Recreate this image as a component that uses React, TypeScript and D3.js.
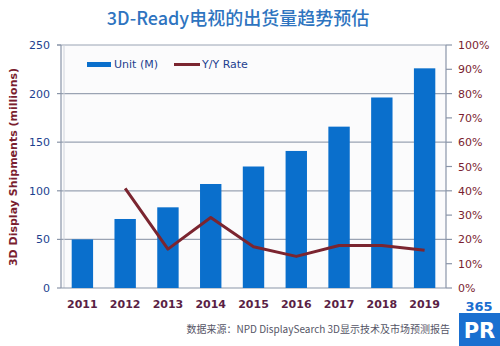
import React from "react";
import * as d3 from "d3";

const years = ["2011", "2012", "2013", "2014", "2015", "2016", "2017", "2018", "2019"];
const units = [50, 71, 83, 107, 125, 141, 166, 196, 226];
const yoyYears = ["2012", "2013", "2014", "2015", "2016", "2017", "2018", "2019"];
const yoyRate = [41, 16, 29, 17, 13, 17.5, 17.5, 15.5];
const leftTicks = [0, 50, 100, 150, 200, 250];
const rightTicks = [0, 10, 20, 30, 40, 50, 60, 70, 80, 90, 100];

const W = 500, H = 346;
const L = 61, R = 446, T = 45, B = 288;
const FONT = "'DejaVu Sans', Verdana, sans-serif";

export default function App() {
  const x = d3.scaleBand<string>().domain(years).range([L, R]).paddingInner(0.5).paddingOuter(0.25);
  const y = d3.scaleLinear().domain([0, 250]).range([B, T]);
  const y2 = d3.scaleLinear().domain([0, 100]).range([B, T]);
  const line = d3.line<number>()
    .x((_, i) => (x(yoyYears[i]) as number) + x.bandwidth() / 2)
    .y((d) => y2(d));

  return (
    <svg width={W} height={H} style={{ position: "absolute", left: 0, top: 0, background: "#fff" }}>
      <rect x={L} y={T} width={R - L} height={B - T} fill="#fbfbfc" />
      <text x={238} y={25} textAnchor="middle" fontFamily="'Noto Sans CJK SC', 'DejaVu Sans', sans-serif" fontSize={18} fontWeight={500} fill="#2e74c0">3D-Ready电视的出货量趋势预估</text>
      {leftTicks.map((t) => (
        <g key={t}>
          {t > 0 && <line x1={t === 250 ? 57 : L} x2={R} y1={y(t)} y2={y(t)} stroke="#9aa3b3" strokeWidth={1.2} />}
          <line x1={57} x2={L} y1={y(t)} y2={y(t)} stroke="#8a95a8" strokeWidth={1.2} />
          <text x={50} y={y(t) + 4} textAnchor="end" fontFamily={FONT} fontSize={11} fill="#1d3f8f">{t}</text>
        </g>
      ))}
      {rightTicks.map((t) => (
        <g key={t}>
          <line x1={R} x2={452} y1={y2(t)} y2={y2(t)} stroke="#8a95a8" strokeWidth={1.2} />
          <text x={458} y={y2(t) + 4} textAnchor="start" fontFamily={FONT} fontSize={11} fill="#7a1e30">{t}%</text>
        </g>
      ))}
      <line x1={L} x2={L} y1={T} y2={B} stroke="#8a95a8" strokeWidth={1.2} />
      <line x1={L + 3} x2={L + 3} y1={T} y2={B} stroke="#d0d4dc" strokeWidth={1} />
      <line x1={R} x2={R} y1={T} y2={B} stroke="#8a95a8" strokeWidth={1.2} />
      <line x1={L} x2={R} y1={B} y2={B} stroke="#8a95a8" strokeWidth={1.2} />
      {units.map((v, i) => (
        <rect key={years[i]} x={x(years[i])} y={y(v)} width={x.bandwidth()} height={B - y(v)} fill="#0a6fcc" />
      ))}
      <path d={line(yoyRate) || ""} fill="none" stroke="#7b2530" strokeWidth={3} strokeLinejoin="round" />
      {years.map((yr) => (
        <text key={yr} x={(x(yr) as number) + x.bandwidth() / 2} y={308} textAnchor="middle" fontFamily={FONT} fontSize={11} fontWeight="bold" fill="#5a1f45">{yr}</text>
      ))}
      <text transform={`translate(17,167) rotate(-90)`} textAnchor="middle" fontFamily={FONT} fontSize={11} fontWeight="bold" fill="#7a1e30">3D Display Shipments (millions)</text>
      <rect x={87} y={62} width={24} height={5} fill="#0a6fcc" />
      <text x={114} y={68} fontFamily={FONT} fontSize={11} fill="#1d3f8f">Unit (M)</text>
      <line x1={174} x2={200} y1={64.5} y2={64.5} stroke="#7b2530" strokeWidth={3} />
      <text x={202} y={68} fontFamily={FONT} fontSize={11} fill="#1d3f8f">Y/Y Rate</text>
      <text x={450} y={333} textAnchor="end" fontFamily="'Noto Sans CJK SC', 'DejaVu Sans', sans-serif" fontSize={10} fill="#556">数据来源：NPD DisplaySearch 3D显示技术及市场预测报告</text>
      <text x={479} y={311} textAnchor="middle" fontFamily={FONT} fontSize={13} fontWeight="bold" fill="#1a6fd0">365</text>
      <rect x={459} y={313} width={41} height={33} fill="#1a6fd0" />
      <text x={479.5} y={338} textAnchor="middle" fontFamily={FONT} fontSize={21} fontWeight="bold" fill="#fff">PR</text>
    </svg>
  );
}
